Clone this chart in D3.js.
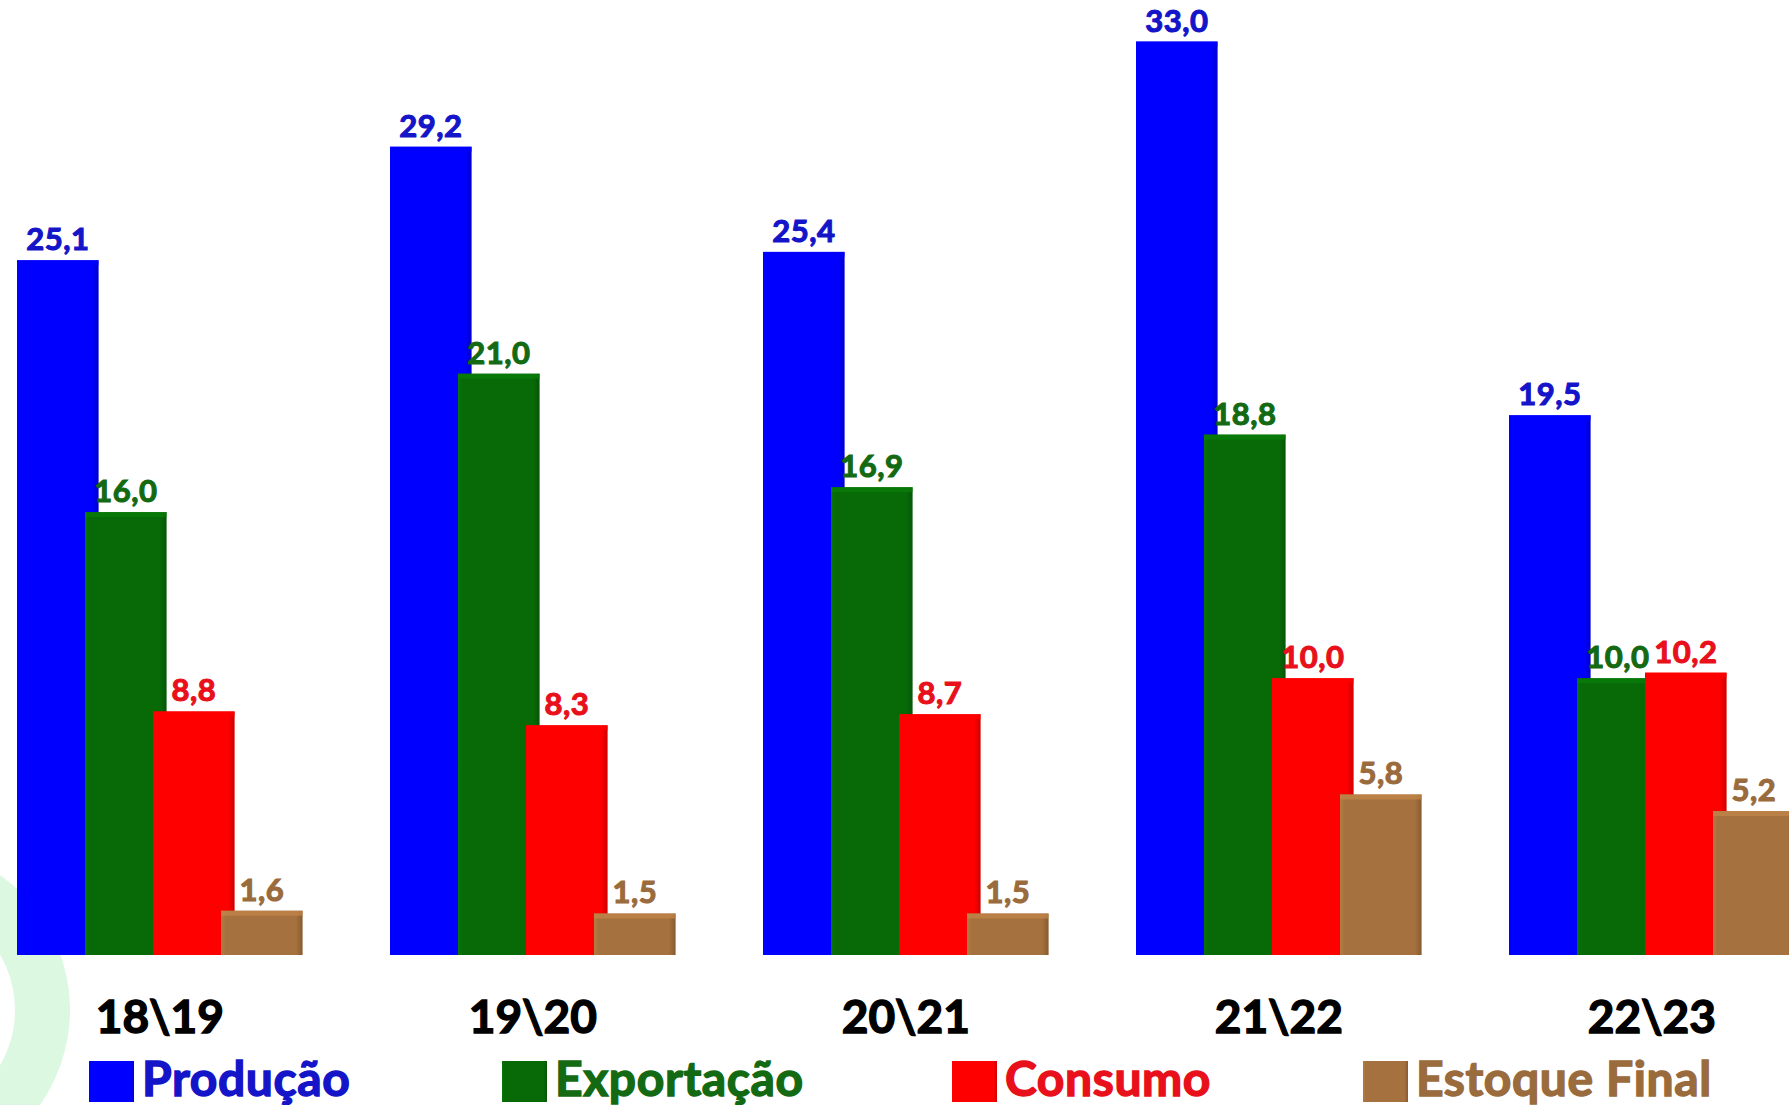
<!DOCTYPE html>
<html><head><meta charset="utf-8">
<script src="https://cdn.jsdelivr.net/npm/d3@7"></script>
<style>
html,body{margin:0;padding:0;background:#fff;}
svg{display:block;font-family:Lato,"Open Sans",sans-serif;font-weight:700;}
</style></head>
<body>
<svg id="chart" width="1789" height="1105"></svg>
<script>
const categories = ["18\\19", "19\\20", "20\\21", "21\\22", "22\\23"];
const seriesNames = ["Produção", "Exportação", "Consumo", "Estoque Final"];
const producao   = [25.1, 29.2, 25.4, 33.0, 19.5];
const exportacao = [16.0, 21.0, 16.9, 18.8, 10.0];
const consumo    = [8.8, 8.3, 8.7, 10.0, 10.2];
const estoque    = [1.6, 1.5, 1.5, 5.8, 5.2];
const seriesValues = [producao, exportacao, consumo, estoque];
const barColors   = ["#0000ff", "#076a07", "#ff0000", "#a5713e"];
const labelColors = ["#1414c8", "#136a13", "#e8101a", "#9a6b3c"];

const svg = d3.select("#chart");

const defs = svg.append("defs");
barColors.forEach((c, i) => {
  const g = defs.append("linearGradient").attr("id", "bev" + i)
    .attr("x1", 0).attr("x2", 1).attr("y1", 0).attr("y2", 0);
  const col = d3.color(c);
  g.append("stop").attr("offset", "0%").attr("stop-color", col.brighter(0.25));
  g.append("stop").attr("offset", "6%").attr("stop-color", c);
  g.append("stop").attr("offset", "92%").attr("stop-color", c);
  g.append("stop").attr("offset", "100%").attr("stop-color", col.darker(0.6));
});

// faint watermark arc bottom-left
svg.append("path")
  .attr("d", d3.arc()({innerRadius: 110, outerRadius: 165, startAngle: -0.1, endAngle: Math.PI * 0.9}))
  .attr("transform", "translate(-95,1010)")
  .attr("fill", "#bff3c7").attr("opacity", 0.55);

const y = d3.scaleLinear().domain([0, 34.5]).range([955, 0]);
const x0 = d3.scaleBand().domain(categories).range([17, 17 + 373 * categories.length]).padding(0);
const x1 = d3.scaleBand().domain(d3.range(seriesNames.length)).range([0, 272]).padding(0);
const barW = x1.bandwidth() * 1.2;
const groupW = x1(seriesNames.length - 1) + barW;

const groups = svg.append("g").selectAll("g").data(categories).join("g")
  .attr("transform", d => `translate(${x0(d)},0)`);

groups.each(function(cat, ci) {
  const g = d3.select(this);
  seriesValues.forEach((vals, si) => {
    const v = vals[ci];
    const bx = x1(si), by = y(v), bh = y(0) - y(v);
    g.append("rect").attr("x", bx).attr("y", by).attr("width", barW).attr("height", bh)
      .attr("fill", `url(#bev${si})`);
    g.append("rect").attr("x", bx).attr("y", by).attr("width", barW).attr("height", 5)
      .attr("fill", d3.color(barColors[si]).brighter(0.5)).attr("opacity", 0.7);
    g.append("text").attr("x", bx + barW / 2).attr("y", by - 10)
      .attr("text-anchor", "middle").attr("font-size", 31)
      .attr("fill", labelColors[si]).attr("stroke", labelColors[si]).attr("stroke-width", 1.1)
      .attr("letter-spacing", 0.5)
      .text(v.toFixed(1).replace(".", ","));
  });
});

// category labels
svg.append("g").selectAll("text").data(categories).join("text")
  .attr("x", d => x0(d) + groupW / 2)
  .attr("y", 1033)
  .attr("text-anchor", "middle").attr("font-size", 46).attr("fill", "#000")
  .attr("stroke", "#000").attr("stroke-width", 1.4)
  .text(d => d);

// legend
const legendX = [89, 502, 952, 1363];
const lg = svg.append("g").selectAll("g").data(seriesNames).join("g")
  .attr("transform", (d, i) => `translate(${legendX[i]},1061)`);
lg.append("rect").attr("x", 0).attr("y", 0).attr("width", 45).attr("height", 41)
  .attr("fill", (d, i) => `url(#bev${i})`);
lg.append("text").attr("x", 53).attr("y", 35).attr("font-size", 48)
  .attr("fill", (d, i) => labelColors[i]).attr("stroke", (d, i) => labelColors[i]).attr("stroke-width", 1.4)
  .attr("letter-spacing", 0.6)
  .text(d => d);
</script>
</body></html>
